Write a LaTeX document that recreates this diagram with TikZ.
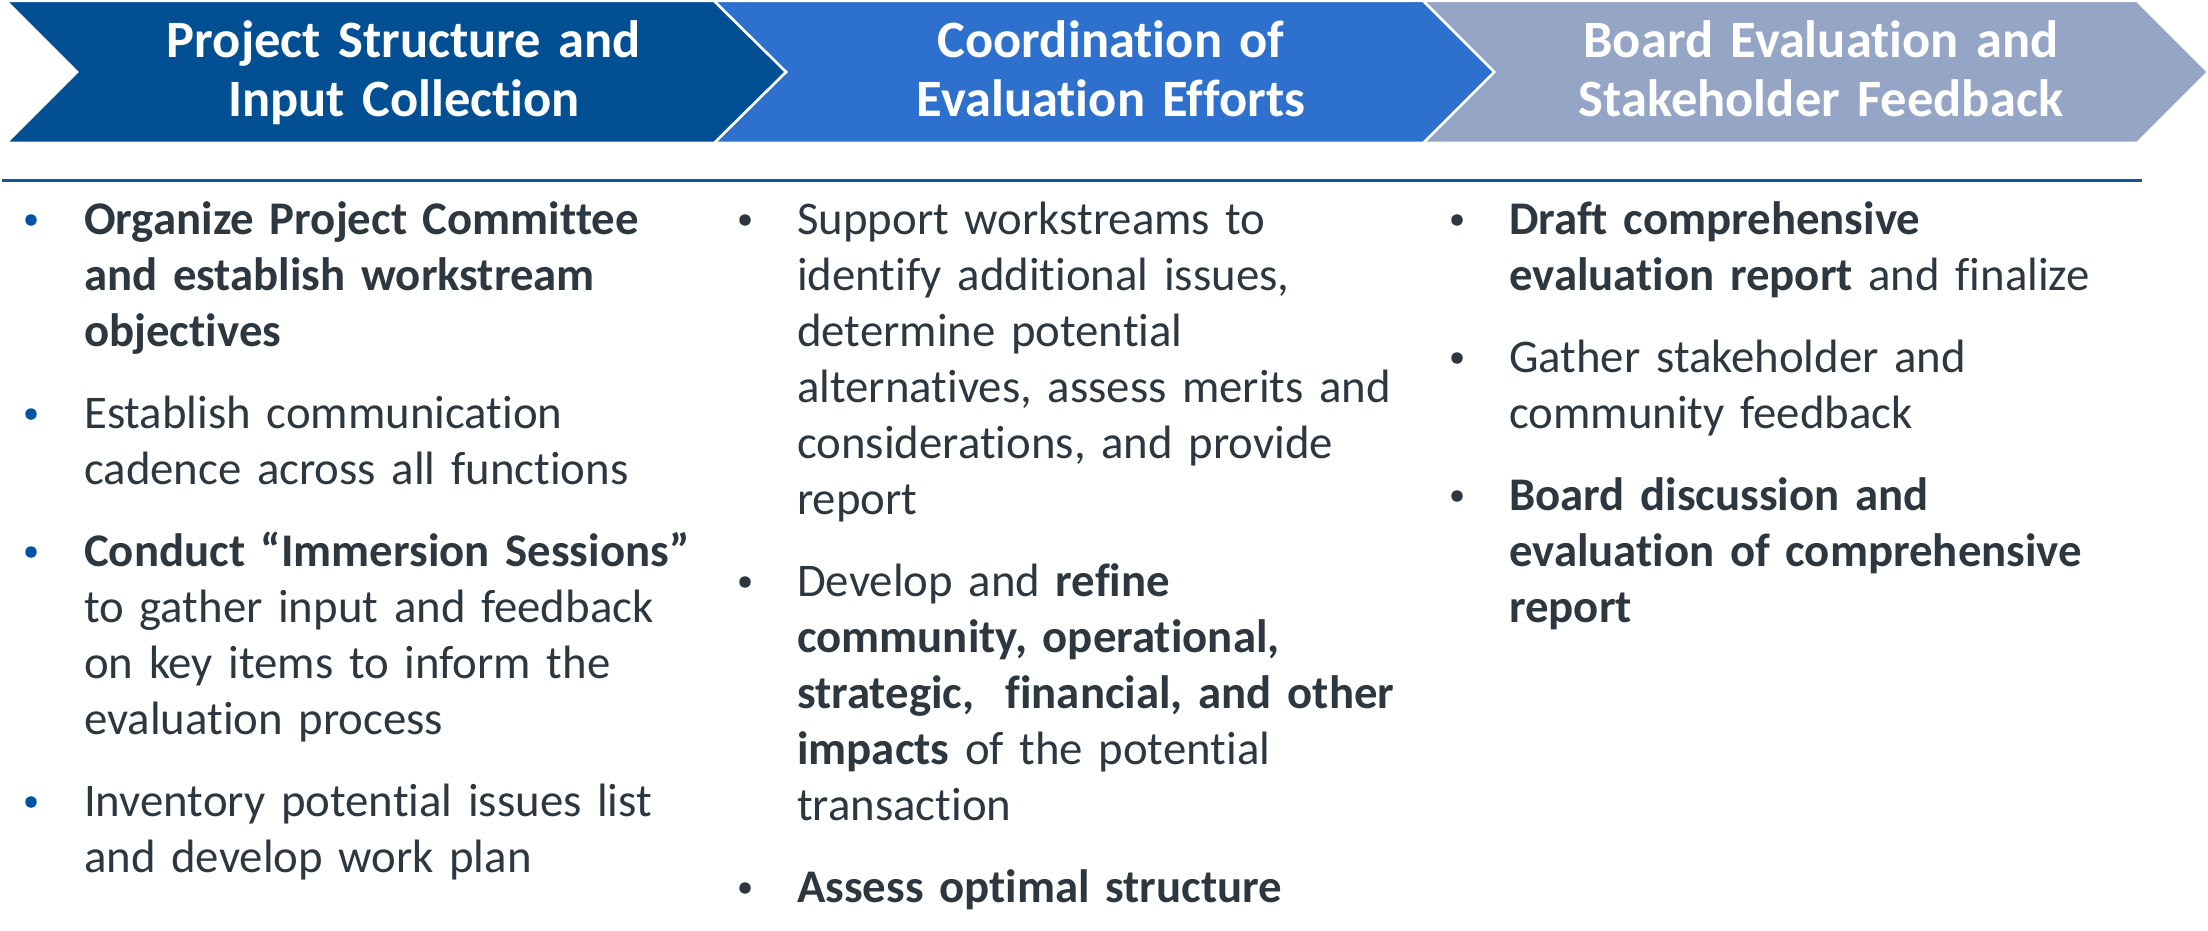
\documentclass[tikz,border=0pt]{standalone}
\usepackage{fontspec}
\setmainfont[Ligatures={NoCommon}]{Carlito}

\definecolor{chevA}{RGB}{2,80,147}
\definecolor{chevB}{RGB}{46,112,205}
\definecolor{chevC}{RGB}{149,165,198}
\definecolor{rulecol}{RGB}{14,88,163}
\definecolor{txt}{RGB}{45,55,64}
\definecolor{dotblue}{RGB}{0,84,164}

\tikzset{
  chevron/.style={draw=white, line width=2.5pt},
  hdr/.style={anchor=base, inner sep=0, text width=700pt, align=center, text=white,
    font=\fontsize{52.5}{59}\selectfont\bfseries},
  item/.style={anchor=base west, inner sep=0, text width=680pt, align=left, text=txt,
    font=\fontsize{46.8}{56}\selectfont},
  dot/.style={circle, inner sep=0, minimum size=11.5pt, fill=txt},
}

\begin{document}
\begin{tikzpicture}[x=1pt,y=-1pt]
  \useasboundingbox (0,0) rectangle (2208,931);

  % chevrons, drawn back to front
  \filldraw[chevron, fill=chevC] (1423,1) -- (2137,1) -- (2208,72) -- (2137,143) -- (1423,143) -- (1494,72) -- cycle;
  \filldraw[chevron, fill=chevB] (714,1) -- (1423,1) -- (1494,72) -- (1423,143) -- (714,143) -- (786,72) -- cycle;
  \filldraw[chevron, fill=chevA] (6,1) -- (714,1) -- (786,72) -- (714,143) -- (6,143) -- (77,72) -- cycle;

  \node[hdr] (h1) at (404,58) {Project Structure and\\Input Collection};
  \node[hdr] (h2) at (1111,58) {Coordination of\\Evaluation Efforts};
  \node[hdr] (h3) at (1821,58) {Board Evaluation and\\Stakeholder Feedback};

  \draw[rulecol, line width=3pt] (2,180) -- (2142,180);

  % first column
  \node[dot, fill=dotblue] (d1a) at (31,220) {};
  \node[item] (p1a) at (84,234) {\textbf{Organize Project Committee\\and establish workstream\\objectives}};
  \node[dot, fill=dotblue] (d1b) at (31,414) {};
  \node[item] (p1b) at (84,428) {Establish communication\\cadence across all functions};
  \node[dot, fill=dotblue] (d1c) at (31,552) {};
  \node[item] (p1c) at (84,566) {\textbf{Conduct “Immersion Sessions”}\\to gather input and feedback\\on key items to inform the\\evaluation process};
  \node[dot, fill=dotblue] (d1d) at (31,802) {};
  \node[item] (p1d) at (84,816) {Inventory potential issues list\\and develop work plan};

  % second column
  \node[dot] (d2a) at (745,220) {};
  \node[item] (p2a) at (797,234) {Support workstreams to\\identify additional issues,\\determine potential\\alternatives, assess merits and\\considerations, and provide\\report};
  \node[dot] (d2b) at (745,582) {};
  \node[item] (p2b) at (797,596) {Develop and \textbf{refine}\\\textbf{community, operational,}\\\textbf{strategic, \ financial, and other}\\\textbf{impacts} of the potential\\transaction};
  \node[dot] (d2c) at (745,888) {};
  \node[item] (p2c) at (797,902) {\textbf{Assess optimal structure}};

  % third column
  \node[dot] (d3a) at (1457,220) {};
  \node[item] (p3a) at (1509,234) {\textbf{Draft comprehensive}\\\textbf{evaluation report} and finalize};
  \node[dot] (d3b) at (1457,358) {};
  \node[item] (p3b) at (1509,372) {Gather stakeholder and\\community feedback};
  \node[dot] (d3c) at (1457,496) {};
  \node[item] (p3c) at (1509,510) {\textbf{Board discussion and}\\\textbf{evaluation of comprehensive}\\\textbf{report}};
\end{tikzpicture}
\end{document}
